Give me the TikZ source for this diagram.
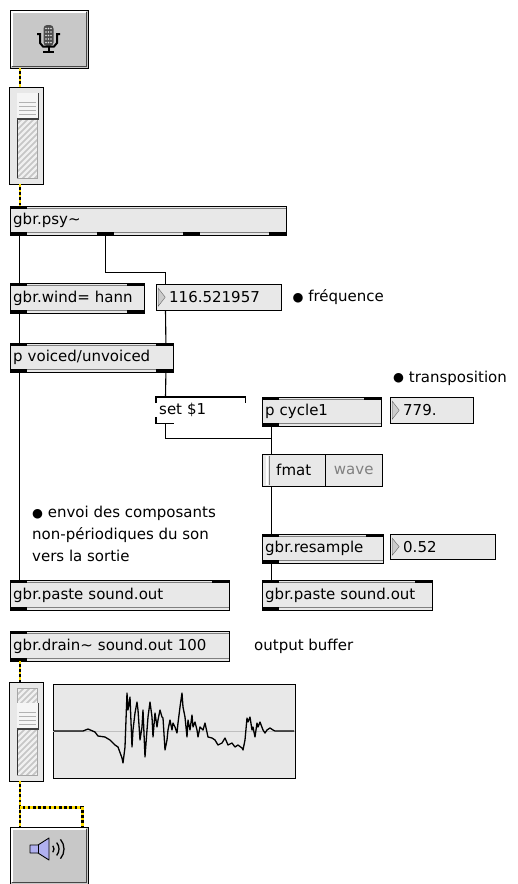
\documentclass[tikz,border=0pt]{standalone}
\usepackage{fontspec}
\newfontfamily\maxfont{DejaVu Sans}
\usetikzlibrary{positioning}
\definecolor{boxgrey}{RGB}{232,232,232}
\definecolor{btngrey}{RGB}{200,200,200}
\definecolor{cordyellow}{RGB}{255,222,0}
\definecolor{spkblue}{RGB}{176,176,240}
\newcommand\dotmark{\raisebox{0.5pt}{\fontsize{12.5}{12.5}\selectfont ●}}
\tikzset{
  obj/.style={
    draw,
    rectangle,
    fill=boxgrey,
    anchor=north west,
    minimum height=29pt,
    inner xsep=3pt,
    inner ysep=0pt,
    align=left,
    font=\maxfont\fontsize{15}{18}\selectfont
  },
  num/.style={
    obj,
    minimum height=26pt,
    execute at begin node={\hspace*{10pt}},
    path picture={
      \fill[gray!40, draw=gray!80!black] ([shift={(2pt,-4pt)}]path picture bounding box.north west)
        -- ([xshift=9pt]path picture bounding box.west)
        -- ([shift={(2pt,4pt)}]path picture bounding box.south west) -- cycle;
    }
  },
  msg/.style={
    anchor=north west,
    minimum width=89pt,
    minimum height=26pt,
    inner xsep=3pt,
    inner ysep=0pt,
    text width=83pt,
    align=left,
    font=\maxfont\fontsize{15}{18}\selectfont
  },
  btn/.style={draw, fill=btngrey, anchor=north west, minimum width=78pt, minimum height=58pt, inner sep=0pt},
  sl/.style={draw, fill=boxgrey, anchor=north west, minimum width=34pt, inner sep=0pt},
  note/.style={font=\maxfont\fontsize{15}{22}\selectfont, inner sep=0pt, align=left},
  cord/.style={line width=1.1pt},
  sig/.style={line width=2.6pt, postaction={draw=cordyellow, line width=2.6pt, dash pattern=on 2.6pt off 2.6pt}},
  band/.style={gray, line width=1pt}
}
\begin{document}
\begin{tikzpicture}[x=1pt, y=-1pt]
\useasboundingbox (0,0) rectangle (518,884);

% input: adc button and gain slider
\node[btn] (mic) at (10,10) {};
\node[sl, minimum height=97pt] (sl1) at (9,87) {};

% analysis chain
\node[obj, text width=270pt] (psy) at (10,206) {gbr.psy\textasciitilde};
\node[obj, text width=128pt, minimum height=30pt] (wind) at (10,283) {gbr.wind= hann};
\node[num, text width=119pt] (freq) at (156,284) {116.521957};
\node[note, right=11pt of freq] (freqlbl) {\dotmark{} fréquence};
\node[obj, text width=157pt] (voiced) at (10,343) {p voiced/unvoiced};
\node[msg] (setmsg) at (156,397) {set \$1};
\node[obj, text width=113pt] (cycle) at (262,397) {p cycle1};
\node[num, text width=77pt] (trans) at (390,397) {779.};
\node[note, anchor=west] (translbl) at (393,378) {\dotmark{} transposition};
\node[obj, minimum width=63pt, minimum height=32pt] (fmat) at (262,454) {fmat};
\node[obj, minimum width=57pt, minimum height=32pt, text=gray] (wave) at (325,454) {wave};
\node[note, anchor=north west] (envoi) at (32,506) {\dotmark{} envoi des composants\\non-périodiques du son\\vers la sortie};
\node[obj, text width=115pt] (resamp) at (262,534) {gbr.resample};
\node[num, text width=99pt, minimum height=25pt] (ratio) at (390,534) {0.52};
\node[obj, text width=213pt, minimum height=30pt] (pasteL) at (10,580) {gbr.paste sound.out};
\node[obj, text width=164pt, minimum height=30pt] (pasteR) at (262,580) {gbr.paste sound.out};

% output
\node[obj, text width=213pt, minimum height=30pt] (drain) at (10,631) {gbr.drain\textasciitilde{} sound.out 100};
\node[note, anchor=west] (outbuf) at (254,646) {output buffer};
\node[sl, minimum height=99pt] (sl2) at (9,682) {};
\node[sl, minimum width=242pt, minimum height=94pt] (disp) at (53,684) {};
\node[btn, minimum height=57pt] (spk) at (10,827) {};

% port bands
\foreach \n in {psy,wind,voiced,cycle,resamp,pasteL,pasteR,drain}{
  \draw[band] ([yshift=-2.5pt]\n.north west) -- ([yshift=-2.5pt]\n.north east);
  \draw[band] ([yshift=2.5pt]\n.south west) -- ([yshift=2.5pt]\n.south east);
}
% inlets
\foreach \n/\d in {psy/0, wind/0, wind/117, voiced/0, voiced/146, cycle/0, cycle/102, resamp/0, resamp/104, pasteL/0, pasteL/202, pasteR/0, pasteR/153, drain/0}
  \fill ([xshift=\d]\n.north west) rectangle ++(17,3);
% outlets
\foreach \n/\d in {psy/0, psy/87, psy/173, psy/259, wind/0, wind/117, voiced/0, voiced/146, cycle/0, resamp/0, pasteL/0, pasteR/0, drain/0}
  \fill ([xshift=\d]\n.south west) rectangle ++(17,-3);

% message box edges
\draw[cord] ([yshift=-6pt]setmsg.north west) -- (setmsg.north west) -- (setmsg.north east) -- ([yshift=-6pt]setmsg.north east);
\draw[cord] ([yshift=6pt]setmsg.south west) -- (setmsg.south west) -- ([xshift=18pt]setmsg.south west);

% fmat button edge
\draw[white, line width=1.5pt] ([shift={(5pt,-1.5pt)}]fmat.north west) -- ([shift={(5pt,1.5pt)}]fmat.south west);
\draw[gray, line width=1pt] ([shift={(7pt,-1.5pt)}]fmat.north west) -- ([shift={(7pt,1.5pt)}]fmat.south west);

% button bevels
\foreach \b in {mic,spk}{
  \draw[white, line width=1.5pt] ([shift={(2pt,2pt)}]\b.south west) |- ([shift={(-2pt,-2pt)}]\b.north east);
  \draw[gray!55!black, line width=1.5pt] ([shift={(2pt,2pt)}]\b.south west) -| ([shift={(-2pt,-2pt)}]\b.north east);
}

% microphone
\fill[gray!60!black, rounded corners=3.5pt] (43.5,25) rectangle (53.5,46);
\foreach \y in {28.5,32,35.5,39,42.5}
  \foreach \x in {46,48.5,51}
    \fill[gray!25] (\x,\y) circle (0.8pt);
\draw[line width=2pt] (37,34) -- (40,34) -- (40,43) -- (43,46.5) -- (54,46.5) -- (57,43) -- (57,34) -- (60,34);
\draw[line width=2pt] (48.5,46.5) -- (48.5,52);
\draw[line width=2pt] (43,52) -- (54,52);

% loudspeaker
\filldraw[fill=spkblue, line width=0.9pt, line join=round] (30,845) -- (38,845) -- (49,838) -- (49,860) -- (38,853) -- (30,853) -- cycle;
\draw[line width=0.8pt] (38,845) -- (38,853);
\foreach \r in {5,10,15}
  \draw[line width=1.3pt] ([shift={(-40:\r pt)}]49,849) arc[start angle=-40, end angle=40, radius=\r pt];

% slider tracks and knobs
\foreach \s/\k/\h in {sl1/6/97, sl2/21/99}{
  \begin{scope}[shift={(\s.north west)}]
    \fill[gray!45] (8,6) rectangle (28,\h-6);
    \begin{scope}
      \clip (8,6) rectangle (28,\h-6);
      \foreach \t in {0,6,...,132}
        \draw[gray!12, line width=2.2pt] (0,6+\t) -- ++(30,-30);
    \end{scope}
    \draw[gray!70] (8,6) rectangle (28,\h-6);
    \draw[gray!40!black, line width=1pt] (8,\k+26) -- (8,\h-6);
    \fill[gray!8] (8,\k) rectangle (30,\k+26);
    \foreach \y in {9,13,17,21}
      \draw[gray!60] (10,\k+\y) -- (27,\k+\y);
    \draw[gray!50!black, line width=1.5pt] (29.5,\k) -- (29.5,\k+26) -- (8,\k+26);
  \end{scope}
}

% buffer display
\draw[gray!50] (disp.west) -- (disp.east);
\draw[line width=1.3pt, line join=round] plot coordinates {
  (54,731) (83,731) (88,729) (95,732) (98,736) (105,737) (110,740) (115,745) (118,747)
  (122,758) (123,763) (125,747) (127,693) (128,710) (130,697) (132,747) (133,730)
  (135,713) (137,702) (138,710) (140,740) (142,727) (143,710) (145,757) (147,730)
  (148,717) (150,702) (152,717) (153,737) (155,713) (157,727) (158,720) (160,710)
  (162,717) (163,718) (165,750) (167,740) (168,730) (170,720) (172,730) (173,723)
  (175,727) (177,733) (178,723) (180,707) (182,693) (183,707) (185,717) (187,737)
  (188,720) (190,730) (192,715) (193,727) (195,722) (197,730) (198,737) (200,727)
  (203,730) (205,723) (208,737) (212,738) (215,740) (218,745) (222,743) (225,738)
  (228,745) (232,743) (235,747) (238,745) (242,748) (243,750) (245,740) (247,718)
  (248,722) (250,717) (252,730) (253,727) (255,737) (257,723) (258,727) (260,722)
  (263,730) (265,733) (267,730) (270,728) (273,730) (275,731) (294,731)};

% signal cords
\draw[sig] ([xshift=10]mic.south west) -- ([xshift=11]sl1.north west);
\draw[sig] ([xshift=11]sl1.south west) -- ([xshift=10]psy.north west);
\draw[sig] ([xshift=10]drain.south west) -- ([xshift=11]sl2.north west);
\draw[sig] ([xshift=11]sl2.south west) -- ([xshift=10]spk.north west);
\draw[sig] ([xshift=11]sl2.south west) -- ++(0,26) -| ([xshift=-6]spk.north east);

% control cords
\draw[cord] ([xshift=9.5]psy.south west) -- ([xshift=9.5]wind.north west);
\draw[cord] ([xshift=95.5]psy.south west) -- ++(0,37) -| ([xshift=9.5]freq.north west);
\draw[cord] ([xshift=9.5]wind.south west) -- ([xshift=9.5]voiced.north west);
\draw[cord] ([xshift=9.5]freq.south west) -- ([xshift=-7.5]voiced.north east);
\draw[cord] ([xshift=9.5]voiced.south west) -- ([xshift=9.5]pasteL.north west);
\draw[cord] ([xshift=-7.5]voiced.south east) -- ([xshift=9.5]setmsg.north west);
\draw[cord] ([xshift=9.5]setmsg.south west) -- ++(0,15) -| ([xshift=9.5]fmat.north west);
\draw[cord] ([xshift=9.5]cycle.south west) -- ([xshift=9.5]fmat.north west);
\draw[cord] ([xshift=9.5]fmat.south west) -- ([xshift=9.5]resamp.north west);
\draw[cord] ([xshift=9.5]resamp.south west) -- ([xshift=9.5]pasteR.north west);
\end{tikzpicture}
\end{document}
